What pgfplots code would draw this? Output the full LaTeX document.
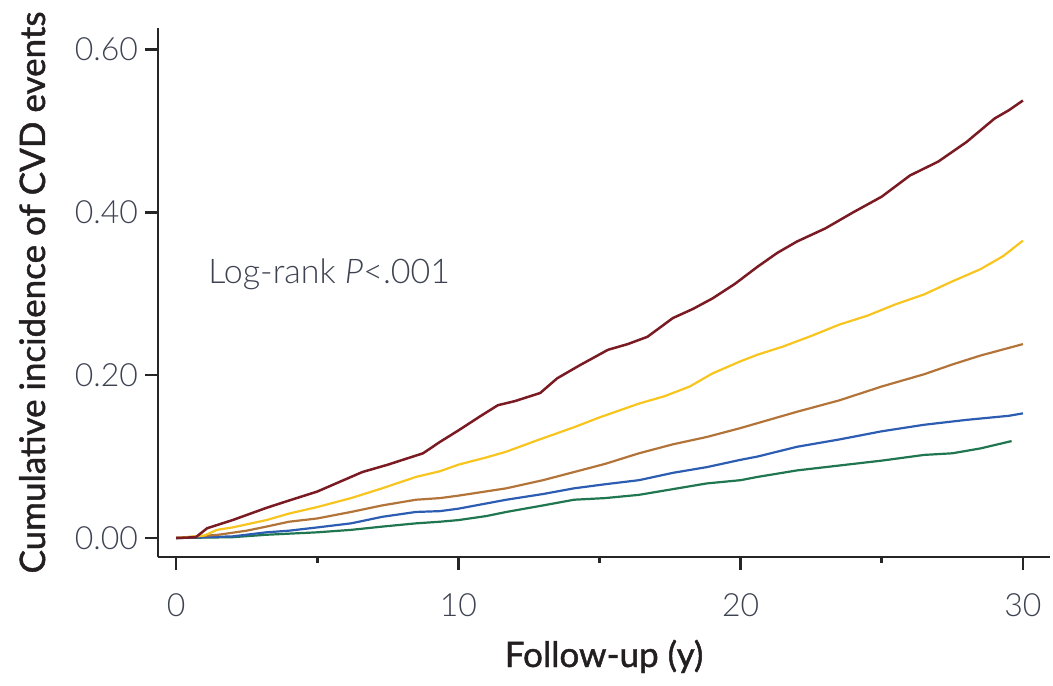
\documentclass[border=0pt]{standalone}
\usepackage{fontspec}
\setmainfont{Lato}
\newfontfamily\lightfont{Lato Light}
\newfontfamily\medfont{Lato}[FakeBold=1.3]
\usepackage{pgfplots}
\pgfplotsset{compat=1.18}
\definecolor{cred}{HTML}{7A1A22}
\definecolor{cyel}{HTML}{F7C51E}
\definecolor{cbrown}{HTML}{B3743A}
\definecolor{cblue}{HTML}{2C5DB3}
\definecolor{cgreen}{HTML}{1F7650}
\definecolor{ticktxt}{HTML}{3E4352}
\definecolor{labtxt}{HTML}{231F20}
\begin{document}
\begin{tikzpicture}
\useasboundingbox (0,0) rectangle (526.5pt,342.5pt);
\begin{axis}[
  at={(79pt,64pt)}, anchor=south west,
  scale only axis, width=446pt, height=264.5pt,
  xmin=-0.64, xmax=30.96, ymin=-0.0233, ymax=0.626,
  axis x line*=bottom, axis y line*=left,
  axis line style={line width=1.4pt, color=black!85, -},
  tick align=outside,
  major tick length=6.5pt, minor tick length=3pt,
  every tick/.style={line width=1.4pt, color=black!85},
  xtick={0,10,20,30}, minor xtick={5,15,25},
  ytick={0,0.2,0.4,0.6},
  /pgf/number format/.cd, fixed, fixed zerofill, precision=2, assume math mode=true,
  /pgfplots/.cd,
  xticklabel style={/pgf/number format/precision=0, /pgf/number format/fixed zerofill=false, font=\lightfont\fontsize{16}{18}\selectfont, color=ticktxt, yshift=-8.5pt},
  yticklabel style={font=\lightfont\fontsize{16}{18}\selectfont, color=ticktxt},
  xlabel={Follow-up (y)},
  ylabel={Cumulative incidence of CVD events},
  every axis x label/.style={at={(axis description cs:0.5,0)}, anchor=base, yshift=-55pt, font=\medfont\fontsize{17.5}{20}\selectfont, color=labtxt},
  every axis y label/.style={at={(axis description cs:0,0.5)}, xshift=-56.5pt, rotate=90, anchor=base, font=\medfont\fontsize{17.5}{20}\selectfont, color=labtxt},
  clip=false,
]
\addplot[cgreen, line width=1.1pt] coordinates {
(0,0) (2,0.001) (3.2,0.004) (5,0.007) (6.2,0.010) (7.3,0.014) (8.5,0.018) (9.35,0.020) (10,0.022) (11,0.027) (11.7,0.032) (13,0.040) (14.1,0.047) (15.2,0.049) (16.4,0.053) (17.6,0.060) (18.8,0.067) (20,0.071) (20.6,0.075) (22,0.083) (23.5,0.089) (25,0.095) (26.5,0.102) (27.5,0.104) (28.5,0.110) (29.6,0.119)};
\addplot[cblue, line width=1.1pt] coordinates {
(0,0) (2,0.002) (3.2,0.007) (4,0.009) (5,0.013) (6.2,0.018) (7.3,0.026) (8.5,0.032) (9.35,0.033) (10,0.036) (11.7,0.047) (13,0.054) (14.1,0.061) (15.2,0.066) (16.4,0.071) (17.6,0.080) (18.8,0.087) (20,0.096) (20.6,0.100) (22,0.112) (23.5,0.121) (25,0.131) (26.5,0.139) (28,0.145) (29.5,0.150) (30,0.153)};
\addplot[cbrown, line width=1.1pt] coordinates {
(0,0) (1.5,0.004) (2.5,0.009) (3.2,0.014) (4,0.020) (5,0.024) (6.2,0.032) (7.3,0.040) (8.5,0.047) (9.35,0.049) (10,0.052) (11.7,0.061) (13,0.071) (14.1,0.081) (15.2,0.091) (16.4,0.104) (17.6,0.115) (18.8,0.124) (20,0.135) (20.6,0.141) (22,0.155) (23.5,0.169) (25,0.186) (26.5,0.201) (27.5,0.213) (28.5,0.224) (30,0.238)};
\addplot[cyel, line width=1.1pt] coordinates {
(0,0) (1,0.003) (1.45,0.010) (2,0.013) (3.2,0.022) (4,0.030) (5,0.038) (6.2,0.049) (7.3,0.061) (8.5,0.075) (9.35,0.082) (10,0.090) (11,0.099) (11.7,0.106) (12.8,0.120) (14.1,0.136) (15,0.148) (16.4,0.165) (17.3,0.174) (18.2,0.186) (19,0.202) (20,0.217) (20.6,0.225) (21.5,0.235) (22.5,0.248) (23.5,0.262) (24.5,0.273) (25.5,0.287) (26.5,0.299) (27.5,0.315) (28.5,0.330) (29.3,0.346) (30,0.365)};
\addplot[cred, line width=1.25pt] coordinates {
(0,0) (0.7,0.001) (1.1,0.012) (2,0.022) (3.2,0.037) (4,0.046) (5,0.057) (6,0.072) (6.6,0.081) (7.5,0.090) (8.75,0.104) (9.35,0.118) (10,0.132) (10.8,0.150) (11.4,0.163) (12,0.168) (12.9,0.178) (13.5,0.196) (14.3,0.212) (15.3,0.231) (16,0.238) (16.7,0.247) (17.6,0.270) (18.3,0.281) (19,0.294) (19.8,0.312) (20.6,0.333) (21.3,0.350) (22,0.364) (23,0.380) (24,0.400) (25,0.419) (26,0.445) (27,0.462) (28,0.486) (29,0.515) (29.5,0.525) (30,0.537)};
\node[anchor=base west, inner sep=0pt, font=\lightfont\fontsize{17}{19}\selectfont, color=ticktxt] at (axis cs:1.13,0.313) {Log-rank \textit{P}<.001};
\end{axis}
\end{tikzpicture}
\end{document}
